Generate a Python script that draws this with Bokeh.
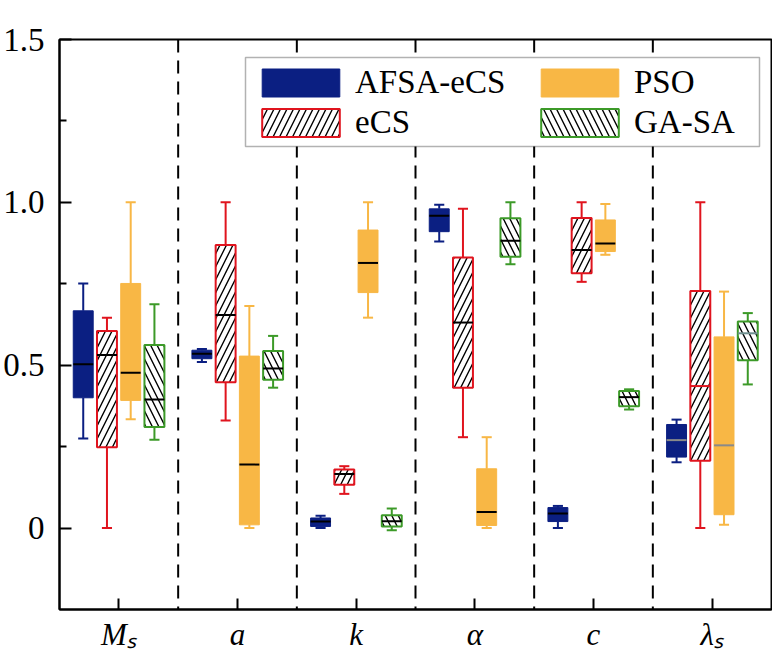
from bokeh.plotting import figure
from bokeh.models import Range1d, FixedTicker, Legend, LegendItem, Span, BoxAnnotation
from bokeh.embed import file_html
from bokeh.resources import INLINE

# ---------------- data ----------------
categories = ["Mₛ", "a", "k", "α", "c", "λₛ"]
series = ["AFSA-eCS", "eCS", "PSO", "GA-SA"]

afsa_lower = [0.275, 0.51, 0.0, 0.88, 0.0, 0.202]
afsa_q1 = [0.40, 0.52, 0.005, 0.91, 0.02, 0.218]
afsa_median = [0.503, 0.535, 0.02, 0.959, 0.045, 0.27]
afsa_q3 = [0.667, 0.546, 0.031, 0.98, 0.063, 0.318]
afsa_upper = [0.751, 0.55, 0.038, 0.993, 0.068, 0.333]

ecs_lower = [0.0, 0.33, 0.105, 0.279, 0.756, 0.0]
ecs_q1 = [0.248, 0.448, 0.133, 0.431, 0.782, 0.207]
ecs_median = [0.531, 0.654, 0.166, 0.631, 0.854, 0.436]
ecs_q3 = [0.605, 0.869, 0.18, 0.831, 0.952, 0.728]
ecs_upper = [0.646, 1.0, 0.19, 0.98, 1.0, 1.0]

pso_lower = [0.334, 0.0, 0.646, 0.0, 0.839, 0.01]
pso_q1 = [0.392, 0.01, 0.723, 0.008, 0.849, 0.041]
pso_median = [0.477, 0.195, 0.814, 0.049, 0.874, 0.254]
pso_q3 = [0.751, 0.528, 0.915, 0.182, 0.946, 0.587]
pso_upper = [1.0, 0.682, 1.0, 0.279, 0.995, 0.726]

gasa_lower = [0.271, 0.431, -0.007, 0.81, 0.364, 0.441]
gasa_q1 = [0.31, 0.455, 0.005, 0.833, 0.374, 0.515]
gasa_median = [0.395, 0.49, 0.021, 0.882, 0.402, 0.598]
gasa_q3 = [0.562, 0.544, 0.039, 0.951, 0.421, 0.634]
gasa_upper = [0.687, 0.59, 0.06, 1.0, 0.426, 0.66]

y_ticks = [0, 0.5, 1.0, 1.5]
y_tick_labels = ["0", "0.5", "1.0", "1.5"]
y_minor_ticks = [0.25, 0.75, 1.25]

# ---------------- styles ----------------
FONT = "Liberation Serif"
colors = ["#0B1F82", "#E0141E", "#F8B745", "#3C9A28"]
fill_colors = ["#0B1F82", "white", "#F8B745", "white"]
hatches = [None, "/", None, "\\"]
outline_widths = [1, 2, 1, 2]
offsets = [-0.3, -0.1, 0.1, 0.3]
median_colors = [
    ["black", "black", "black", "black", "black", "#8a8a8a"],
    ["black", "black", "black", "black", "black", "#E0141E"],
    ["black", "black", "black", "black", "black", "#8a8a8a"],
    ["black", "black", "black", "black", "black", "#6f9090"],
]
box_w = 0.168
cap_w = 0.085

data = [
    (afsa_lower, afsa_q1, afsa_median, afsa_q3, afsa_upper),
    (ecs_lower, ecs_q1, ecs_median, ecs_q3, ecs_upper),
    (pso_lower, pso_q1, pso_median, pso_q3, pso_upper),
    (gasa_lower, gasa_q1, gasa_median, gasa_q3, gasa_upper),
]

p = figure(width=772, height=659, x_range=Range1d(0, 6), y_range=Range1d(-0.25, 1.5),
           output_backend="svg", toolbar_location=None,
           min_border_left=57, min_border_right=1, min_border_top=39, min_border_bottom=50)
p.xgrid.visible = False
p.ygrid.visible = False
p.outline_line_color = "black"
p.outline_line_width = 2
p.background_fill_color = "white"
p.border_fill_color = "white"

# y axis
p.yaxis.ticker = FixedTicker(ticks=y_ticks, minor_ticks=y_minor_ticks)
p.yaxis.major_label_overrides = {t: l for t, l in zip(y_ticks, y_tick_labels)}
p.yaxis.major_tick_in = 12
p.yaxis.major_tick_out = 0
p.yaxis.minor_tick_in = 7
p.yaxis.minor_tick_out = 0
p.yaxis.axis_line_width = 2
p.yaxis.major_tick_line_width = 2
p.yaxis.minor_tick_line_width = 2
p.yaxis.major_label_text_font = FONT
p.yaxis.major_label_text_font_size = "33px"
p.yaxis.major_label_text_color = "black"
p.yaxis.major_label_standoff = 15

# x axis
centers = [i + 0.5 for i in range(len(categories))]
p.xaxis.ticker = FixedTicker(ticks=centers, minor_ticks=[])
p.xaxis.major_label_overrides = {c: cat for c, cat in zip(centers, categories)}
p.xaxis.major_tick_in = 11
p.xaxis.major_tick_out = 0
p.xaxis.axis_line_width = 2
p.xaxis.major_tick_line_width = 2
p.xaxis.major_label_text_font = FONT
p.xaxis.major_label_text_font_style = "italic"
p.xaxis.major_label_text_font_size = "31px"
p.xaxis.major_label_text_color = "black"
p.xaxis.major_label_standoff = 7

# dividers
for k in range(1, len(categories)):
    p.add_layout(Span(location=k, dimension="height", line_color="black",
                      line_width=2, line_dash="13 8"))

legend_items = []
for si, (lo, q1, med, q3, up) in enumerate(data):
    xs = [c + offsets[si] for c in centers]
    col = colors[si]
    p.segment(x0=xs, y0=q3, x1=xs, y1=up, line_color=col, line_width=2)
    p.segment(x0=xs, y0=q1, x1=xs, y1=lo, line_color=col, line_width=2)
    p.segment(x0=[x - cap_w / 2 for x in xs], y0=up, x1=[x + cap_w / 2 for x in xs], y1=up,
              line_color=col, line_width=2)
    p.segment(x0=[x - cap_w / 2 for x in xs], y0=lo, x1=[x + cap_w / 2 for x in xs], y1=lo,
              line_color=col, line_width=2)
    kw = {}
    if hatches[si]:
        kw = dict(hatch_pattern=hatches[si], hatch_color="black", hatch_scale=13, hatch_weight=1.4)
    r = p.quad(left=[x - box_w / 2 for x in xs], right=[x + box_w / 2 for x in xs],
               bottom=q1, top=q3, fill_color=fill_colors[si], line_color=col,
               line_width=outline_widths[si], **kw)
    p.segment(x0=[x - box_w / 2 for x in xs], y0=med, x1=[x + box_w / 2 for x in xs], y1=med,
              line_color=median_colors[si], line_width=2)
    legend_items.append(LegendItem(label=series[si], renderers=[r]))

# legend frame (screen units relative to the plot frame)
p.add_layout(BoxAnnotation(left=186, right=700, bottom=463, top=552,
                           left_units="screen", right_units="screen",
                           bottom_units="screen", top_units="screen",
                           fill_color="white", fill_alpha=1,
                           line_color="black", line_width=1.5, level="annotation"))

leg_kw = dict(orientation="vertical", glyph_width=97, glyph_height=35, label_standoff=6,
              spacing=3, padding=4, margin=0, border_line_color=None,
              background_fill_alpha=0, label_text_font=FONT,
              label_text_font_size="33px", label_text_color="black")
p.add_layout(Legend(items=legend_items[:2], location=(193, 468), **leg_kw), "center")
p.add_layout(Legend(items=legend_items[2:], location=(472, 468), **leg_kw), "center")

open("out.html", "w").write(file_html(p, INLINE))
